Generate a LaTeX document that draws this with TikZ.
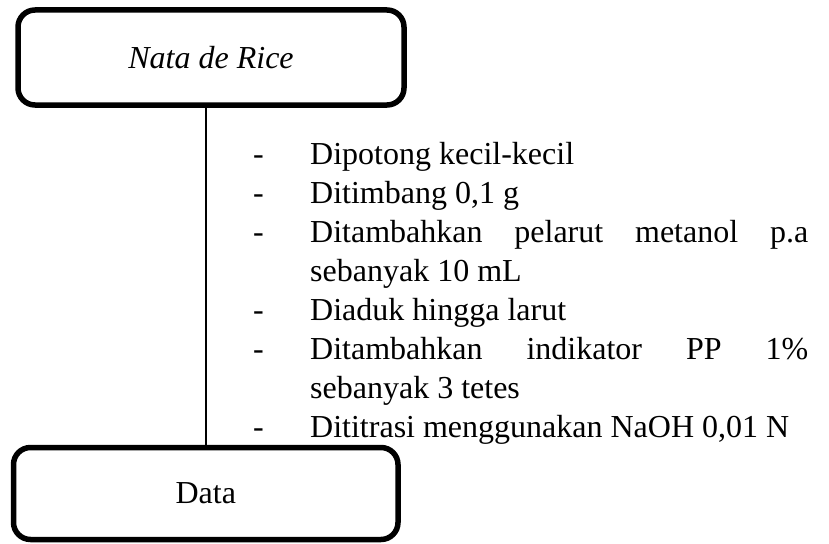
\documentclass[tikz,border=0pt]{standalone}
\usepackage{fontspec}
\setmainfont{Liberation Serif}
\begin{document}
\begin{tikzpicture}[x=1pt,y=-1pt,
  boxstyle/.style={draw=black,line width=5.5pt,rounded corners=17pt,inner sep=0pt,font=\fontsize{32}{39}\selectfont},
  itemtext/.style={anchor=base west,inner sep=0pt,font=\fontsize{32}{39}\selectfont},
  link/.style={draw=black,line width=2pt}]
\useasboundingbox (0,0) rectangle (829,543);
\node[boxstyle,minimum width=386pt,minimum height=95pt] (top) at (211,57.5) {\itshape Nata de Rice};
\node[boxstyle,minimum width=384.5pt,minimum height=92pt] (bot) at (205.75,493.5) {Data};
\draw[link] (bot.north) -- (bot.north |- top.south);
% dashes
\foreach \i/\y in {1/164,2/203.1,3/242.2,5/320.4,6/359.5,8/437.7}{
  \node[itemtext] (d\i) at (253,\y) {-};
}
\node[itemtext] (l1) at (310,164) {Dipotong kecil-kecil};
\node[itemtext] (l2) at (310,203.1) {Ditimbang 0,1 g};
\node[itemtext] (l3) at (310,242.2) {\hbox to 498pt{Ditambahkan\hfill pelarut\hfill metanol\hfill p.a}};
\node[itemtext] (l4) at (310,281.3) {sebanyak 10 mL};
\node[itemtext] (l5) at (310,320.4) {Diaduk hingga larut};
\node[itemtext] (l6) at (310,359.5) {\hbox to 498pt{Ditambahkan\hfill indikator\hfill PP\hfill 1\%}};
\node[itemtext] (l7) at (310,398.6) {sebanyak 3 tetes};
\node[itemtext] (l8) at (310,437.7) {Dititrasi menggunakan NaOH 0,01 N};
\end{tikzpicture}
\end{document}
